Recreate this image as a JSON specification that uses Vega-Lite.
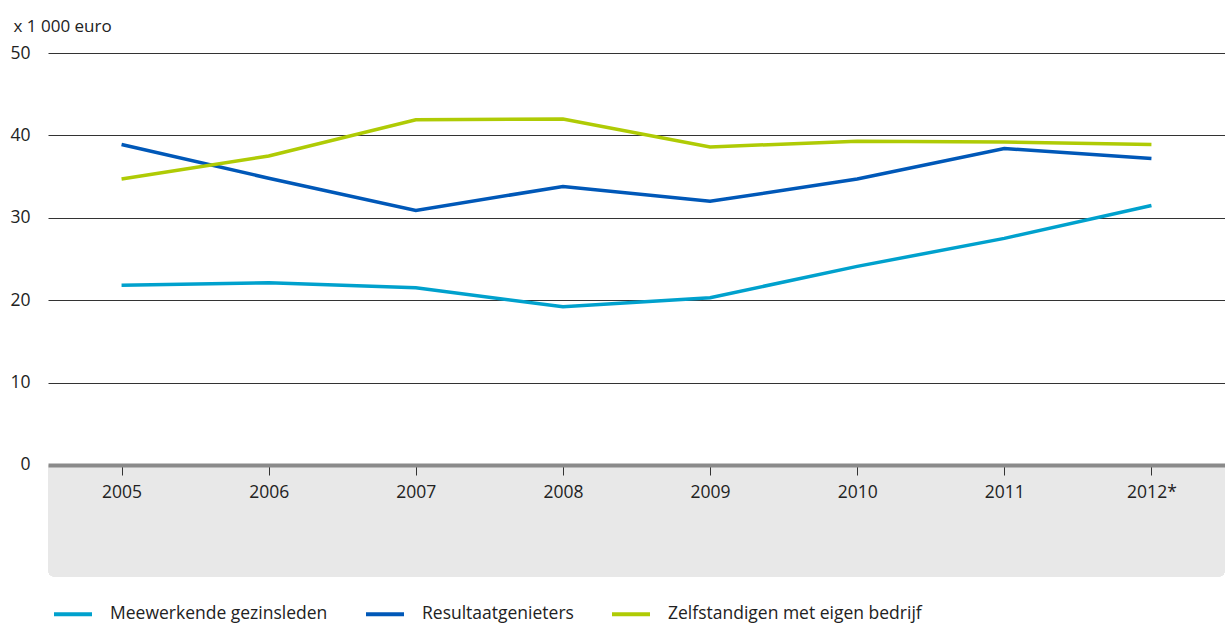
{
  "$schema": "https://vega.github.io/schema/vega-lite/v6.json",
  "width": 1177,
  "height": 524,
  "autosize": "none",
  "padding": {"left": 48, "top": 53, "right": 0, "bottom": 48},
  "background": "white",
  "config": {
    "font": "Open Sans",
    "view": {"stroke": null}
  },
  "data": {
    "values": [
      {"jaar": "2005", "reeks": "Meewerkende gezinsleden", "waarde": 21.8},
      {"jaar": "2006", "reeks": "Meewerkende gezinsleden", "waarde": 22.1},
      {"jaar": "2007", "reeks": "Meewerkende gezinsleden", "waarde": 21.5},
      {"jaar": "2008", "reeks": "Meewerkende gezinsleden", "waarde": 19.2},
      {"jaar": "2009", "reeks": "Meewerkende gezinsleden", "waarde": 20.3},
      {"jaar": "2010", "reeks": "Meewerkende gezinsleden", "waarde": 24.1},
      {"jaar": "2011", "reeks": "Meewerkende gezinsleden", "waarde": 27.5},
      {"jaar": "2012*", "reeks": "Meewerkende gezinsleden", "waarde": 31.5},
      {"jaar": "2005", "reeks": "Resultaatgenieters", "waarde": 38.9},
      {"jaar": "2006", "reeks": "Resultaatgenieters", "waarde": 34.8},
      {"jaar": "2007", "reeks": "Resultaatgenieters", "waarde": 30.9},
      {"jaar": "2008", "reeks": "Resultaatgenieters", "waarde": 33.8},
      {"jaar": "2009", "reeks": "Resultaatgenieters", "waarde": 32.0},
      {"jaar": "2010", "reeks": "Resultaatgenieters", "waarde": 34.7},
      {"jaar": "2011", "reeks": "Resultaatgenieters", "waarde": 38.4},
      {"jaar": "2012*", "reeks": "Resultaatgenieters", "waarde": 37.2},
      {"jaar": "2005", "reeks": "Zelfstandigen met eigen bedrijf", "waarde": 34.7},
      {"jaar": "2006", "reeks": "Zelfstandigen met eigen bedrijf", "waarde": 37.5},
      {"jaar": "2007", "reeks": "Zelfstandigen met eigen bedrijf", "waarde": 41.9},
      {"jaar": "2008", "reeks": "Zelfstandigen met eigen bedrijf", "waarde": 42.0},
      {"jaar": "2009", "reeks": "Zelfstandigen met eigen bedrijf", "waarde": 38.6},
      {"jaar": "2010", "reeks": "Zelfstandigen met eigen bedrijf", "waarde": 39.3},
      {"jaar": "2011", "reeks": "Zelfstandigen met eigen bedrijf", "waarde": 39.2},
      {"jaar": "2012*", "reeks": "Zelfstandigen met eigen bedrijf", "waarde": 38.9}
    ]
  },
  "layer": [
    {
      "mark": {"type": "rect", "color": "#e8e8e8", "cornerRadiusBottomLeft": 8, "cornerRadiusBottomRight": 8},
      "encoding": {
        "y": {"datum": 0, "type": "quantitative", "scale": {"domain": [-13.6, 50], "nice": false}},
        "y2": {"datum": -13.6}
      }
    },
    {
      "mark": {"type": "line", "strokeWidth": 3.5},
      "encoding": {
        "x": {
          "field": "jaar", "type": "ordinal", "sort": null,
          "axis": {
            "title": null, "labelAngle": 0, "offset": -112, "zindex": 1,
            "domainColor": "#8a8a8a", "domainWidth": 4,
            "tickColor": "#333333", "tickSize": 10, "tickWidth": 1,
            "labelFontSize": 17.5, "labelColor": "#222222", "labelPadding": 8
          }
        },
        "y": {
          "field": "waarde", "type": "quantitative",
          "scale": {"domain": [-13.6, 50], "nice": false},
          "axis": {
            "values": [0, 10, 20, 30, 40, 50],
            "domain": false, "ticks": false,
            "grid": true, "gridColor": "#333333", "gridWidth": 1,
            "labelFontSize": 17.5, "labelColor": "#222222", "labelPadding": 18,
            "title": "x 1 000 euro", "titleAngle": 0, "titleAlign": "left",
            "titleBaseline": "alphabetic", "titleX": -35, "titleY": -22,
            "titleFontSize": 17, "titleFontWeight": "normal", "titleColor": "#222222"
          }
        },
        "color": {
          "field": "reeks", "type": "nominal",
          "scale": {
            "domain": ["Meewerkende gezinsleden", "Resultaatgenieters", "Zelfstandigen met eigen bedrijf"],
            "range": ["#00a1cd", "#0058b8", "#afcb05"]
          },
          "legend": {
            "title": null, "orient": "none", "direction": "horizontal",
            "legendX": 4, "legendY": 540,
            "symbolType": "stroke", "symbolSize": 1444, "symbolStrokeWidth": 4,
            "labelFontSize": 17.5, "labelColor": "#222222", "labelOffset": 16,
            "labelLimit": 0, "columnPadding": 30
          }
        }
      }
    }
  ]
}
